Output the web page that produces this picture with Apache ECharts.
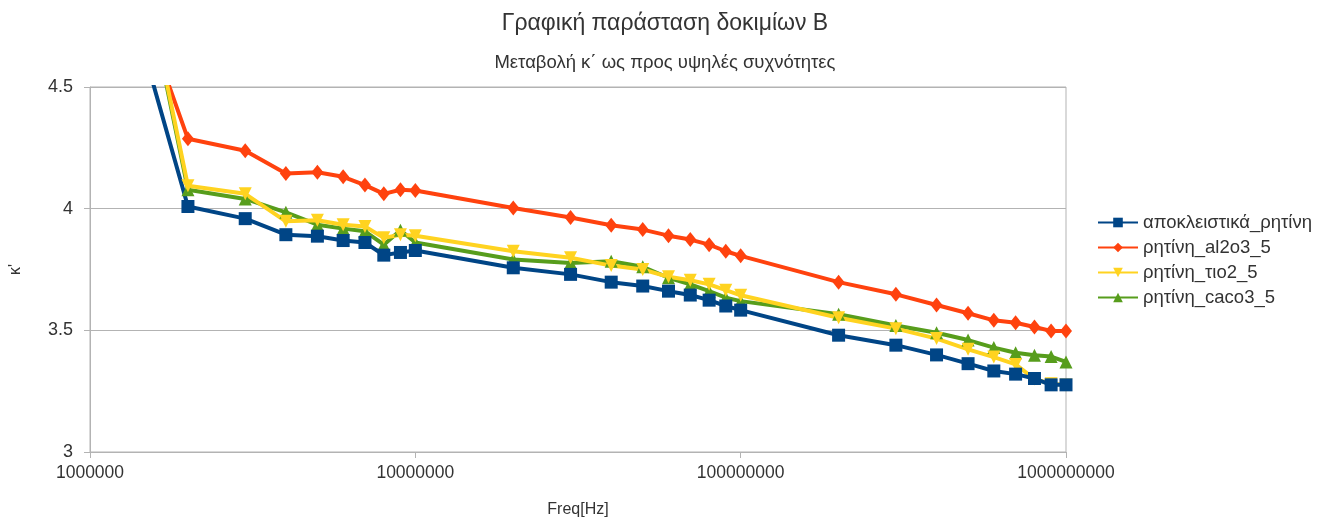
<!DOCTYPE html>
<html>
<head>
<meta charset="utf-8">
<script src="https://cdn.jsdelivr.net/npm/echarts@6/dist/echarts.min.js"></script>
<style>
  html, body { margin: 0; padding: 0; background: #fff; }
  #chart { width: 1330px; height: 523px; }
</style>
</head>
<body>
<div id="chart"></div>
<script>
// συχνότητες (Hz)
const freq = [
  1e6, 2e6, 3e6, 4e6, 5e6, 6e6, 7e6, 8e6, 9e6,
  1e7, 2e7, 3e7, 4e7, 5e7, 6e7, 7e7, 8e7, 9e7,
  1e8, 2e8, 3e8, 4e8, 5e8, 6e8, 7e8, 8e8, 9e8,
  1e9
];

const resinOnly = [
  5.43, 4.009, 3.959, 3.893, 3.887, 3.869, 3.861, 3.809, 3.820,
  3.828, 3.757, 3.730, 3.698, 3.682, 3.661, 3.645, 3.624, 3.600,
  3.583, 3.480, 3.439, 3.399, 3.363, 3.333, 3.320, 3.302, 3.276,
  3.276
];
const resinAl2o3 = [
  5.42, 4.287, 4.238, 4.145, 4.150, 4.131, 4.097, 4.061, 4.078,
  4.075, 4.003, 3.964, 3.932, 3.914, 3.889, 3.873, 3.852, 3.825,
  3.806, 3.698, 3.648, 3.604, 3.570, 3.541, 3.531, 3.514, 3.497,
  3.497
];
const resinTio2 = [
  6.05, 4.094, 4.061, 3.948, 3.952, 3.934, 3.927, 3.880, 3.893,
  3.889, 3.825, 3.798, 3.766, 3.750, 3.720, 3.706, 3.689, 3.665,
  3.644, 3.552, 3.507, 3.466, 3.422, 3.390, 3.360, 3.300, 3.280,
  3.275
];
const resinCaco3 = [
  6.04, 4.078, 4.040, 3.985, 3.934, 3.918, 3.907, 3.852, 3.911,
  3.861, 3.791, 3.777, 3.784, 3.761, 3.716, 3.689, 3.661, 3.634,
  3.620, 3.566, 3.520, 3.490, 3.460, 3.429, 3.408, 3.398, 3.392,
  3.370
];

const seriesNames = ['αποκλειστικά_ρητίνη', 'ρητίνη_al2o3_5', 'ρητίνη_τιο2_5', 'ρητίνη_caco3_5'];
const yTicks = [3, 3.5, 4, 4.5];

const pairs = (vals) => freq.map((f, i) => [f, vals[i]]);

const font = 'Liberation Sans, Arial, sans-serif';
const gridColor = '#b3b3b3';
const textColor = '#333333';

const mkSeries = (name, vals, color, symbol, size, extra) => Object.assign({
  name: name,
  type: 'line',
  data: pairs(vals),
  symbol: symbol,
  symbolSize: size,
  showSymbol: true,
  lineStyle: { width: 4, color: color },
  itemStyle: { color: color },
  emphasis: { disabled: true },
  clip: true
}, extra || {});

const chart = echarts.init(document.getElementById('chart'));
chart.setOption({
  animation: false,
  textStyle: { fontFamily: font },
  title: [
    {
      text: 'Γραφική παράσταση δοκιμίων Β',
      left: 'center', top: 7,
      textStyle: { fontFamily: font, fontSize: 23, fontWeight: 'normal', color: textColor }
    },
    {
      text: 'Μεταβολή κ΄ ως προς υψηλές συχνότητες',
      left: 'center', top: 48,
      textStyle: { fontFamily: font, fontSize: 18.5, fontWeight: 'normal', color: textColor }
    }
  ],
  legend: {
    orient: 'vertical',
    left: 1092, top: 208,
    itemWidth: 40, itemHeight: 12, itemGap: 6,
    textStyle: { fontFamily: font, fontSize: 18.5, color: textColor },
    data: seriesNames
  },
  grid: {
    left: 87, right: 264, top: 87, bottom: 70,
    show: true, borderColor: gridColor, borderWidth: 1,
    containLabel: false
  },
  xAxis: {
    type: 'log', logBase: 10, min: 1e6, max: 1e9,
    name: 'Freq[Hz]', nameLocation: 'middle', nameGap: 50,
    nameTextStyle: { fontFamily: font, fontSize: 16, color: textColor },
    axisLine: { show: true, lineStyle: { color: gridColor } },
    axisTick: { show: true, length: 6, lineStyle: { color: gridColor } },
    axisLabel: {
      fontFamily: font, fontSize: 17.5, color: textColor, margin: 12,
      formatter: (v) => String(Math.round(v))
    },
    splitLine: { show: false },
    minorTick: { show: false }
  },
  yAxis: {
    type: 'value', min: yTicks[0], max: yTicks[yTicks.length - 1], interval: 0.5,
    name: "κ'", nameLocation: 'middle', nameGap: 66, nameRotate: 90,
    nameTextStyle: { fontFamily: font, fontSize: 16, color: textColor },
    axisLine: { show: true, lineStyle: { color: gridColor } },
    axisTick: { show: true, length: 6, lineStyle: { color: gridColor } },
    axisLabel: { fontFamily: font, fontSize: 18, color: textColor, margin: 17 },
    splitLine: { show: true, lineStyle: { color: gridColor, width: 1 } }
  },
  series: [
    mkSeries(seriesNames[1], resinAl2o3, '#ff420e', 'diamond', [12, 15]),
    mkSeries(seriesNames[3], resinCaco3, '#579d1c', 'triangle', 13),
    mkSeries(seriesNames[2], resinTio2, '#ffd320', 'triangle', 13, { symbolRotate: 180 }),
    mkSeries(seriesNames[0], resinOnly, '#004586', 'rect', 13)
  ]
});
</script>
</body>
</html>
